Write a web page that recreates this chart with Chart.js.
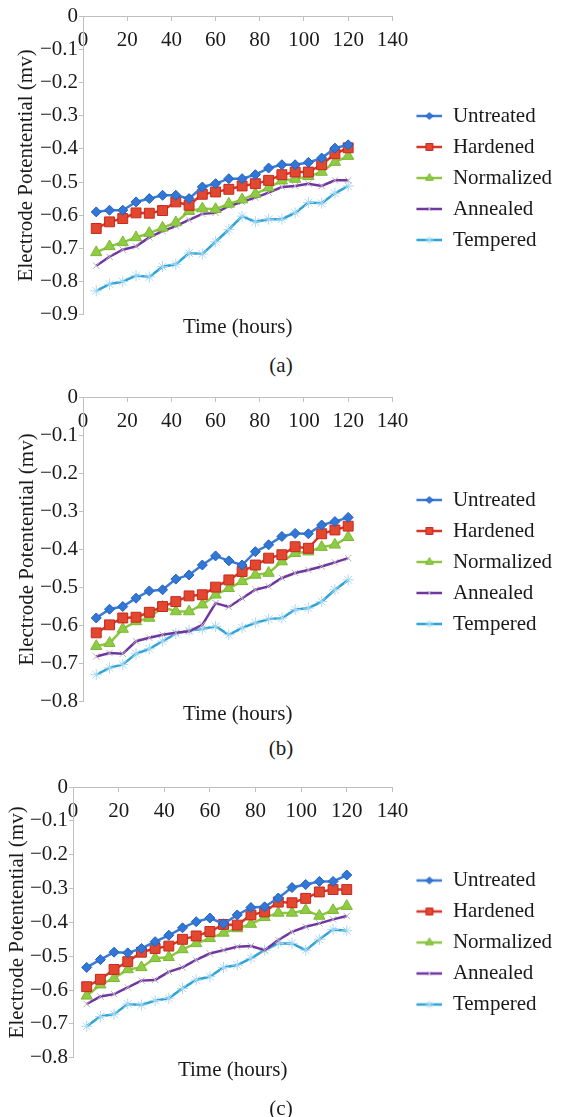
<!DOCTYPE html>
<html>
<head>
<meta charset="utf-8">
<script src="https://cdn.jsdelivr.net/npm/chart.js@4.4.1/dist/chart.umd.min.js"></script>
<style>
  body { margin: 0; background: #fff; }
  #page { position: relative; width: 562px; height: 1117px; overflow: hidden; }
  canvas { position: absolute; left: 0; }
  .cap { position: absolute; left: 0; width: 562px; text-align: center;
         font: 21px 'Liberation Serif', serif; color: #1a1a1a; line-height: 24px; }
</style>
</head>
<body>
<div id="page">
  <canvas id="chartA" width="562" height="340" style="top:0px"></canvas>
  <div class="cap" style="top:353px">(a)</div>
  <canvas id="chartB" width="562" height="346" style="top:381px"></canvas>
  <div class="cap" style="top:736px">(b)</div>
  <canvas id="chartC" width="562" height="327" style="top:771px"></canvas>
  <div class="cap" style="top:1096px">(c)</div>
</div>
<script>
const SERIF = '"Liberation Serif", serif';
Chart.defaults.font.family = SERIF;
Chart.defaults.font.size = 21;
Chart.defaults.color = '#1a1a1a';

const AXIS = '#bfbfbf';
const TEXT = '#1a1a1a';
const FONT = { family: SERIF, size: 21 };

// sampling times (hours)
const hours = [6, 12, 18, 24, 30, 36, 42, 48, 54, 60, 66, 72, 78, 84, 90, 96, 102, 108, 114, 120];
const seriesNames = ['Untreated', 'Hardened', 'Normalized', 'Annealed', 'Tempered'];

// (a)
const untreatedA  = [-0.59, -0.585, -0.585, -0.56, -0.55, -0.54, -0.54, -0.55, -0.515, -0.505, -0.49, -0.49, -0.478, -0.458, -0.448, -0.448, -0.441, -0.428, -0.398, -0.388];
const hardenedA   = [-0.64, -0.62, -0.61, -0.593, -0.594, -0.586, -0.56, -0.57, -0.537, -0.53, -0.522, -0.512, -0.505, -0.495, -0.478, -0.47, -0.47, -0.448, -0.415, -0.397];
const normalizedA = [-0.712, -0.694, -0.682, -0.667, -0.654, -0.638, -0.622, -0.588, -0.58, -0.582, -0.566, -0.553, -0.536, -0.517, -0.496, -0.491, -0.483, -0.47, -0.44, -0.422];
const annealedA   = [-0.752, -0.725, -0.704, -0.694, -0.667, -0.648, -0.633, -0.614, -0.596, -0.593, -0.573, -0.56, -0.547, -0.532, -0.515, -0.512, -0.505, -0.512, -0.495, -0.495];
const temperedA   = [-0.828, -0.808, -0.8, -0.782, -0.786, -0.755, -0.748, -0.714, -0.717, -0.68, -0.643, -0.603, -0.62, -0.612, -0.612, -0.593, -0.562, -0.564, -0.534, -0.512];

// (b)
const untreatedB  = [-0.58, -0.557, -0.55, -0.528, -0.509, -0.506, -0.478, -0.467, -0.441, -0.417, -0.43, -0.441, -0.406, -0.388, -0.366, -0.358, -0.359, -0.336, -0.327, -0.316];
const hardenedB   = [-0.619, -0.598, -0.58, -0.578, -0.565, -0.55, -0.537, -0.522, -0.519, -0.499, -0.48, -0.458, -0.441, -0.423, -0.414, -0.393, -0.397, -0.359, -0.349, -0.339];
const normalizedB = [-0.654, -0.646, -0.609, -0.589, -0.58, -0.551, -0.563, -0.563, -0.545, -0.519, -0.502, -0.484, -0.467, -0.462, -0.432, -0.41, -0.406, -0.394, -0.388, -0.368];
const annealedB   = [-0.681, -0.672, -0.674, -0.641, -0.632, -0.624, -0.619, -0.615, -0.598, -0.541, -0.551, -0.528, -0.506, -0.497, -0.475, -0.462, -0.454, -0.445, -0.434, -0.423];
const temperedB   = [-0.729, -0.711, -0.702, -0.674, -0.661, -0.641, -0.621, -0.613, -0.609, -0.602, -0.624, -0.606, -0.593, -0.583, -0.58, -0.558, -0.554, -0.537, -0.506, -0.48];

// (c)
const untreatedC  = [-0.533, -0.51, -0.488, -0.49, -0.477, -0.457, -0.438, -0.416, -0.398, -0.387, -0.404, -0.378, -0.356, -0.354, -0.328, -0.297, -0.288, -0.279, -0.279, -0.26];
const hardenedC   = [-0.59, -0.568, -0.539, -0.516, -0.488, -0.477, -0.47, -0.45, -0.44, -0.427, -0.406, -0.408, -0.378, -0.369, -0.34, -0.342, -0.329, -0.31, -0.303, -0.303];
const normalizedC = [-0.617, -0.584, -0.565, -0.539, -0.533, -0.506, -0.503, -0.48, -0.462, -0.447, -0.431, -0.418, -0.405, -0.385, -0.372, -0.372, -0.364, -0.381, -0.364, -0.352];
const annealedC   = [-0.641, -0.619, -0.612, -0.592, -0.572, -0.57, -0.546, -0.533, -0.511, -0.492, -0.482, -0.472, -0.47, -0.482, -0.452, -0.428, -0.413, -0.403, -0.391, -0.381];
const temperedC   = [-0.707, -0.678, -0.671, -0.641, -0.644, -0.631, -0.624, -0.595, -0.57, -0.56, -0.533, -0.526, -0.506, -0.482, -0.462, -0.462, -0.482, -0.45, -0.421, -0.425];

const STYLES = [
  { line: '#3a7bd5', fill: '#3177d8', edge: '#2560b8', pointStyle: 'rectRot', radius: 5 },
  { line: '#d8352a', fill: '#e2472f', edge: '#c8281e', pointStyle: 'rect', radius: 7 },
  { line: '#8dc63f', fill: '#8fcb45', edge: '#7cb834', pointStyle: 'triangle', radius: 6.5 },
  { line: '#7035a0', fill: '#b5aebb', edge: '#b5aebb', pointStyle: 'crossRot', radius: 4.5 },
  { line: '#2ea3d5', fill: '#a8d8f2', edge: '#a8d8f2', pointStyle: 'star', radius: 5.5 },
];

function fmtTick(v) {
  if (Math.abs(v) < 1e-9) return '0';
  return '\u2212' + Math.abs(v).toFixed(1);
}

// line + marker swatch for the legend
function makeIcon(s) {
  const c = document.createElement('canvas');
  c.width = 40;
  c.height = 16;
  const ctx = c.getContext('2d');
  ctx.strokeStyle = s.line;
  ctx.lineWidth = 2.5;
  ctx.beginPath();
  ctx.moveTo(14, 8);
  ctx.lineTo(40, 8);
  ctx.stroke();
  ctx.fillStyle = s.fill;
  ctx.strokeStyle = s.edge;
  ctx.lineWidth = 1;
  Chart.helpers.drawPoint(ctx, { pointStyle: s.pointStyle, radius: s.radius * 0.7, rotation: 0, borderWidth: 1 }, 27, 8);
  return c;
}

function buildDatasets(values) {
  return values.map((vals, i) => {
    const s = STYLES[i];
    return {
      label: seriesNames[i],
      data: hours.map((h, j) => ({ x: h, y: vals[j] })),
      borderColor: s.line,
      backgroundColor: s.fill,
      borderWidth: 2.5,
      pointStyle: s.pointStyle,
      pointRadius: s.radius,
      pointBackgroundColor: s.fill,
      pointBorderColor: s.edge,
      pointBorderWidth: 1,
      tension: 0,
      xAxisID: 'x',
      yAxisID: 'y',
    };
  });
}

function renderPanel(id, values, o) {
  const icons = STYLES.map(makeIcon);
  new Chart(document.getElementById(id), {
    type: 'line',
    data: { datasets: buildDatasets(values) },
    options: {
      responsive: false,
      animation: false,
      font: FONT,
      layout: { padding: { left: 0, right: 0, top: 16, bottom: 0 } },
      plugins: {
        legend: {
          position: 'right',
          maxWidth: 175,
          labels: {
            usePointStyle: true,
            pointStyleWidth: 40,
            padding: 10,
            color: TEXT,
            font: FONT,
            generateLabels: chart =>
              Chart.defaults.plugins.legend.labels.generateLabels(chart)
                .map((item, i) => ({ ...item, pointStyle: icons[i] })),
          },
        },
        tooltip: { enabled: false },
      },
      scales: {
        x: {
          type: 'linear',
          position: { y: 0 },
          min: 0,
          max: 140,
          ticks: { stepSize: 20, padding: 8, maxRotation: 0, font: FONT, color: TEXT },
          grid: { drawOnChartArea: false, drawTicks: true, tickLength: 4, color: AXIS },
          border: { color: AXIS, width: 1 },
        },
        x2: {
          type: 'linear',
          position: 'bottom',
          min: 0,
          max: 140,
          ticks: { display: false },
          grid: { display: false, drawTicks: false },
          border: { display: false },
          title: { display: true, text: 'Time (hours)', font: FONT, color: TEXT,
                   padding: { top: 0, bottom: o.titleGap } },
        },
        y: {
          type: 'linear',
          position: 'left',
          min: o.yMin,
          max: 0,
          afterFit: s => { s.width = o.axisWidth; },
          ticks: { stepSize: 0.1, padding: 1, font: FONT, color: TEXT, callback: v => fmtTick(v) },
          grid: { drawOnChartArea: false, drawTicks: true, tickLength: 4, color: AXIS },
          border: { color: AXIS, width: 1 },
          title: { display: true, text: 'Electrode Potentential (mv)', font: FONT, color: TEXT,
                   padding: { top: o.titlePad, bottom: 0 } },
        },
      },
    },
  });
}

function renderAll() {
  renderPanel('chartA', [untreatedA, hardenedA, normalizedA, annealedA, temperedA],
    { yMin: -0.9, axisWidth: 83, titlePad: 14, titleGap: 0 });
  renderPanel('chartB', [untreatedB, hardenedB, normalizedB, annealedB, temperedB],
    { yMin: -0.8, axisWidth: 83, titlePad: 15, titleGap: 0 });
  renderPanel('chartC', [untreatedC, hardenedC, normalizedC, annealedC, temperedC],
    { yMin: -0.8, axisWidth: 73, titlePad: 5, titleGap: 15 });
}

// make sure the serif face is ready before the canvases measure text
if (document.fonts && document.fonts.load) {
  document.fonts.load('21px "Liberation Serif"').then(renderAll, renderAll);
} else {
  renderAll();
}
</script>
</body>
</html>
